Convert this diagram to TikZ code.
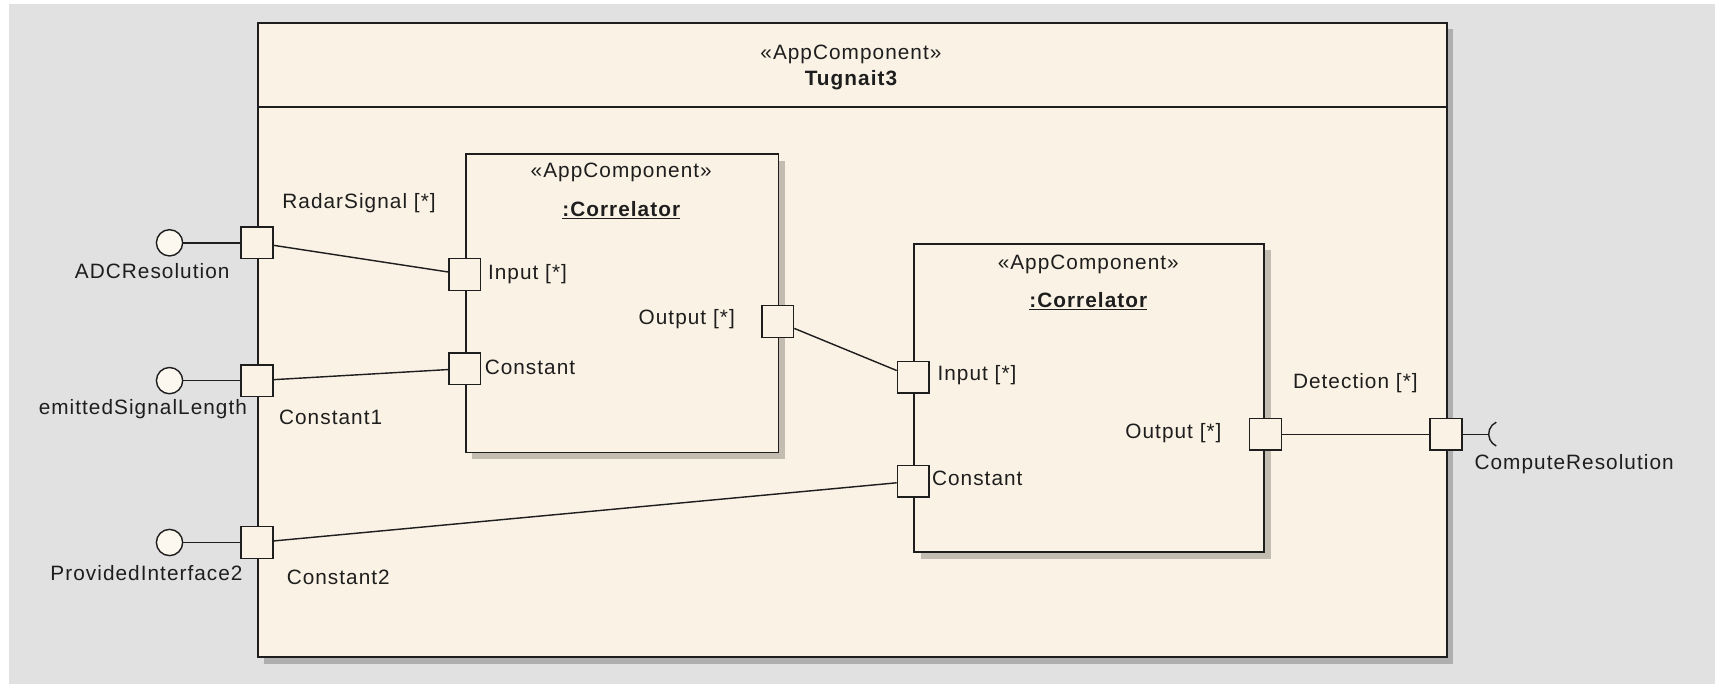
\documentclass[tikz,border=0pt]{standalone}
\usepackage{fontspec}
\setmainfont{Liberation Sans}[LetterSpace=5.0]
\usetikzlibrary{shadows,calc}
\definecolor{bgc}{RGB}{225,225,225}
\definecolor{cream}{RGB}{250,242,228}
\definecolor{ink}{RGB}{30,30,30}
\begin{document}
\begin{tikzpicture}[x=1pt,y=-1pt,
  txt/.style={inner sep=0pt, text=ink, font=\fontsize{19}{23}\selectfont},
  btxt/.style={inner sep=0pt, text=ink, font=\fontsize{19}{23}\selectfont\bfseries},
  box/.style={draw=ink, line width=1.6pt, fill=cream, inner sep=0pt, anchor=north west,
    drop shadow={shadow xshift=6pt, shadow yshift=-6pt, fill=black, opacity=0.22}},
  port/.style={draw=ink, line width=1.4pt, fill=cream, minimum size=29pt, inner sep=0pt},
  lolli/.style={draw=ink, line width=1.3pt, fill=cream!60!white, circle, minimum size=24pt, inner sep=0pt},
  conn/.style={draw=ink, line width=1.3pt}
]
\useasboundingbox (0,0) rectangle (1568,625.4);
\fill[white] (0,0) rectangle (1568,625.4);
\fill[bgc] (8,4) rectangle (1568,625.4);

% outer component
\node[box, minimum width=1087pt, minimum height=580pt] (outer) at (235,20) {};
\draw[ink, line width=1.6pt] (235,98) -- (1322,98);
\node[txt] (ost) at (778,50) {«AppComponent»};
\node[btxt] (oname) at (778,73) {Tugnait3};

% inner component 1
\node[box, minimum width=286pt, minimum height=273pt] (b1) at (425,140) {};
\node[txt] (b1st) at (568,158) {«AppComponent»};
\node[btxt] (b1name) at (568,192) {\underline{:Correlator}};

% inner component 2
\node[box, minimum width=320pt, minimum height=282pt] (b2) at (835,222) {};
\node[txt] (b2st) at (995,242) {«AppComponent»};
\node[btxt] (b2name) at (995,275) {\underline{:Correlator}};

% ports of outer
\node[port] (p1) at (235,222) {};
\node[port] (p2) at (235,348) {};
\node[port] (p3) at (235,496) {};
\node[port] (pout) at (1322,397) {};

% ports of inner 1
\node[port] (b1in) at (425,251) {};
\node[port] (b1c) at (425,337) {};
\node[port] (b1out) at (711,294) {};

% ports of inner 2
\node[port] (b2in) at (835,345) {};
\node[port] (b2c) at (835,440) {};
\node[port] (b2out) at (1157,397) {};

% provided interfaces
\node[lolli] (i1) at (155,222) {};
\node[lolli] (i2) at (155,348) {};
\node[lolli] (i3) at (155,496) {};
\draw[conn] (i1) -- (p1);
\draw[conn] (i2) -- (p2);
\draw[conn] (i3) -- (p3);

% required interface (socket)
\coordinate (sock) at (1361,397);
\draw[conn] (pout) -- (sock);
\draw[conn] (1368,386) arc[start angle=-115, end angle=-245, radius=12];

% connectors
\draw[conn] (p1) -- (b1in);
\draw[conn] (p2) -- (b1c);
\draw[conn] (p3) -- (b2c);
\draw[conn] (b1out) -- (b2in);
\draw[conn] (b2out) -- (pout);

% labels
\node[txt, anchor=east] (l1) at (210,248) {ADCResolution};
\node[txt, anchor=east] (l2) at (226,374) {emittedSignalLength};
\node[txt, anchor=east] (l3) at (222,524) {ProvidedInterface2};
\node[txt, anchor=west] (lp1) at (258,186) {RadarSignal [*]};
\node[txt, anchor=west] (lp2) at (255,382) {Constant1};
\node[txt, anchor=west] (lp3) at (262,528) {Constant2};
\node[txt, anchor=west] (lb1in) at (446,251) {Input [*]};
\node[txt, anchor=west] (lb1c) at (443,336) {Constant};
\node[txt, anchor=east] (lb1out) at (672,292) {Output [*]};
\node[txt, anchor=west] (lb2in) at (857,343) {Input [*]};
\node[txt, anchor=west] (lb2c) at (852,437) {Constant};
\node[txt, anchor=east] (lb2out) at (1117,396) {Output [*]};
\node[txt, anchor=west] (ldet) at (1182,350) {Detection [*]};
\node[txt, anchor=west] (lcr) at (1348,424) {ComputeResolution};
\end{tikzpicture}
\end{document}
